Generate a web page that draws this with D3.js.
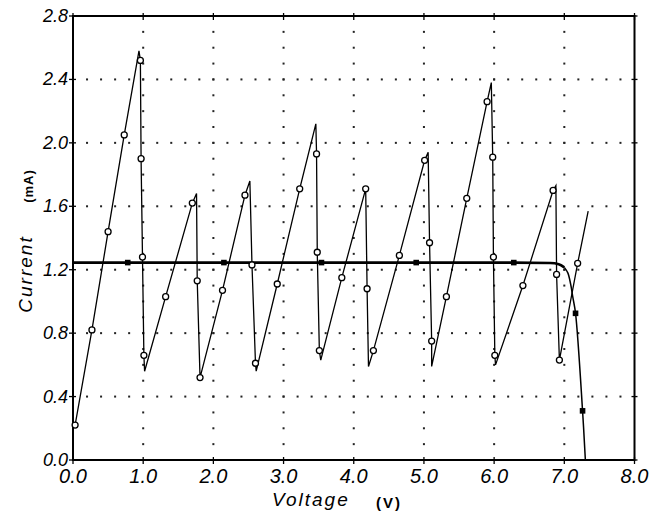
<!DOCTYPE html>
<html>
<head>
<meta charset="utf-8">
<script src="https://cdn.jsdelivr.net/npm/d3@7"></script>
<style>
  body { margin: 0; background: #fff; }
  svg text { font-family: "Liberation Sans", Arial, sans-serif; fill: #000; }
</style>
</head>
<body>
<svg id="chart" width="650" height="514"></svg>
<script>
// sawtooth curve (open circles where marked == 1)
var sawVoltage = [0.03, 0.27, 0.50, 0.73, 0.94, 0.96, 0.97, 0.99, 1.01, 1.02,
  1.32, 1.70, 1.76, 1.77, 1.81, 2.13, 2.45, 2.52, 2.55, 2.60, 2.61,
  2.91, 3.23, 3.46, 3.47, 3.48, 3.51, 3.53, 3.83, 4.17, 4.19, 4.21,
  4.28, 4.65, 5.01, 5.06, 5.08, 5.11, 5.11, 5.32, 5.61, 5.90, 5.96,
  5.98, 5.99, 6.01, 6.02, 6.41, 6.84, 6.88, 6.89, 6.93, 7.19, 7.34];
var sawCurrent = [0.22, 0.82, 1.44, 2.05, 2.58, 2.52, 1.90, 1.28, 0.66, 0.56,
  1.03, 1.62, 1.68, 1.13, 0.52, 1.07, 1.67, 1.76, 1.23, 0.61, 0.56,
  1.11, 1.71, 2.12, 1.93, 1.31, 0.69, 0.63, 1.15, 1.71, 1.08, 0.59,
  0.69, 1.29, 1.89, 1.94, 1.37, 0.75, 0.59, 1.03, 1.65, 2.26, 2.38,
  1.91, 1.28, 0.66, 0.60, 1.10, 1.70, 1.73, 1.17, 0.63, 1.24, 1.57];
var sawMarked = [1, 1, 1, 1, 0, 1, 1, 1, 1, 0,
  1, 1, 0, 1, 1, 1, 1, 0, 1, 1, 0,
  1, 1, 0, 1, 1, 1, 0, 1, 1, 1, 0,
  1, 1, 1, 0, 1, 1, 0, 1, 1, 1, 0,
  1, 1, 1, 0, 1, 1, 0, 1, 1, 1, 0];

// flat curve (filled squares where marked == 1)
var flatVoltage = [0.0, 0.78, 2.15, 3.54, 4.89, 6.28, 6.80, 6.92, 7.00, 7.05, 7.09, 7.12, 7.16, 7.26, 7.30];
var flatCurrent = [1.245, 1.245, 1.245, 1.245, 1.245, 1.245, 1.242, 1.235, 1.215, 1.18, 1.11, 1.03, 0.925, 0.31, 0.0];
var flatMarked = [0, 1, 1, 1, 1, 1, 0, 0, 0, 0, 0, 0, 1, 1, 0];

var xTicks = [0, 1, 2, 3, 4, 5, 6, 7, 8];
var yTicks = [0, 0.4, 0.8, 1.2, 1.6, 2.0, 2.4, 2.8];

var svg = d3.select("#chart");

var x = d3.scaleLinear().domain([0, 8]).range([73, 634.5]);
var y = d3.scaleLinear().domain([0, 2.8]).range([460, 16]);

// dotted grid
var hDots = [];
yTicks.slice(1, -1).forEach(function(t) {
  d3.range(1, 40).forEach(function(k) { hDots.push([k * 0.2, t]); });
});
var vDots = [];
xTicks.slice(1, -1).forEach(function(t) {
  d3.range(1, 28).forEach(function(k) { vDots.push([t, k * 0.1]); });
});
svg.append("g").selectAll("rect")
  .data(hDots.concat(vDots))
  .join("rect")
  .attr("x", d => x(d[0]) - 1)
  .attr("y", d => y(d[1]) - 1)
  .attr("width", 2)
  .attr("height", 2)
  .attr("fill", "#222");

// frame
svg.append("rect")
  .attr("x", x(0)).attr("y", y(2.8))
  .attr("width", x(8) - x(0)).attr("height", y(0) - y(2.8))
  .attr("fill", "none").attr("stroke", "#000").attr("stroke-width", 2);

// tick marks
var tk = svg.append("g").attr("stroke", "#000").attr("stroke-width", 1.3);
xTicks.forEach(function(t) {
  tk.append("line").attr("x1", x(t)).attr("x2", x(t)).attr("y1", y(0) - 3).attr("y2", y(0) + 4);
  tk.append("line").attr("x1", x(t)).attr("x2", x(t)).attr("y1", y(2.8) - 3).attr("y2", y(2.8) + 4);
});
yTicks.forEach(function(t) {
  tk.append("line").attr("x1", x(0) - 4).attr("x2", x(0) + 3).attr("y1", y(t)).attr("y2", y(t));
  tk.append("line").attr("x1", x(8) - 3).attr("x2", x(8) + 3).attr("y1", y(t)).attr("y2", y(t));
});

// tick labels
svg.append("g").selectAll("text")
  .data(xTicks)
  .join("text")
  .attr("x", d => x(d))
  .attr("y", 483)
  .attr("text-anchor", "middle")
  .attr("font-size", 20)
  .attr("font-style", "italic")
  .text(d => d3.format(".1f")(d));

svg.append("g").selectAll("text")
  .data(yTicks)
  .join("text")
  .attr("x", 68)
  .attr("y", d => y(d) + 6)
  .attr("text-anchor", "end")
  .attr("font-size", 18)
  .attr("font-style", "italic")
  .text(d => d3.format(".1f")(d));

// axis titles
svg.append("text")
  .attr("x", 272).attr("y", 506)
  .attr("font-size", 19).attr("font-style", "italic")
  .attr("letter-spacing", 2)
  .text("Voltage");
svg.append("text")
  .attr("x", 376).attr("y", 508)
  .attr("font-size", 15).attr("font-weight", "bold")
  .attr("letter-spacing", 2)
  .text("(V)");
svg.append("text")
  .attr("transform", "translate(32,274) rotate(-90)")
  .attr("text-anchor", "middle")
  .attr("font-size", 19).attr("font-style", "italic")
  .attr("letter-spacing", 2)
  .text("Current");
svg.append("text")
  .attr("transform", "translate(33,186) rotate(-90)")
  .attr("text-anchor", "middle")
  .attr("font-size", 13).attr("font-weight", "bold")
  .attr("letter-spacing", 1)
  .text("(mA)");

// flat curve
var flat = flatVoltage.map((v, i) => ({v: v, c: flatCurrent[i], m: flatMarked[i]}));
svg.append("path")
  .datum(flat.slice(0, 9))
  .attr("d", d3.line().x(d => x(d.v)).y(d => y(d.c)).curve(d3.curveMonotoneX))
  .attr("fill", "none").attr("stroke", "#000").attr("stroke-width", 2.6);
svg.append("path")
  .datum(flat.slice(8))
  .attr("d", d3.line().x(d => x(d.v)).y(d => y(d.c)).curve(d3.curveCatmullRom))
  .attr("fill", "none").attr("stroke", "#000").attr("stroke-width", 1.5);
svg.append("g").selectAll("rect")
  .data(flat.filter(d => d.m))
  .join("rect")
  .attr("x", d => x(d.v) - 2.8)
  .attr("y", d => y(d.c) - 2.8)
  .attr("width", 5.6).attr("height", 5.6)
  .attr("fill", "#000");

// sawtooth curve
var saw = sawVoltage.map((v, i) => ({v: v, c: sawCurrent[i], m: sawMarked[i]}));
svg.append("path")
  .datum(saw)
  .attr("d", d3.line().x(d => x(d.v)).y(d => y(d.c)))
  .attr("fill", "none").attr("stroke", "#000").attr("stroke-width", 1.3);
svg.append("g").selectAll("circle")
  .data(saw.filter(d => d.m))
  .join("circle")
  .attr("cx", d => x(d.v))
  .attr("cy", d => y(d.c))
  .attr("r", 3)
  .attr("fill", "#fff")
  .attr("stroke", "#000")
  .attr("stroke-width", 1.3);
</script>
</body>
</html>
